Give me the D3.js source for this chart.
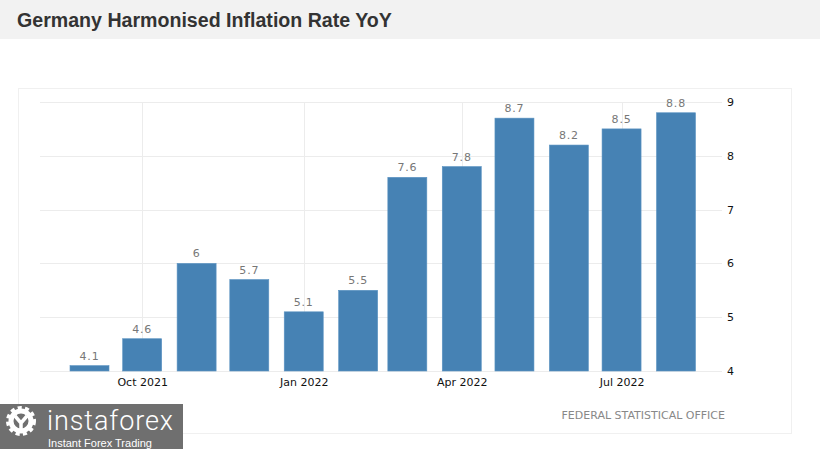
<!DOCTYPE html>
<html><head><meta charset="utf-8">
<script src="https://cdn.jsdelivr.net/npm/d3@7"></script>
<style>html,body{margin:0;padding:0;background:#fff;}svg{display:block;}</style>
</head><body><svg id="c" width="820" height="449"></svg>
<script>
const title = "Germany Harmonised Inflation Rate YoY";
const months = ["2021-09","2021-10","2021-11","2021-12","2022-01","2022-02","2022-03","2022-04","2022-05","2022-06","2022-07","2022-08"];
const values = [4.1,4.6,6,5.7,5.1,5.5,7.6,7.8,8.7,8.2,8.5,8.8];
const valueLabels = ["4.1","4.6","6","5.7","5.1","5.5","7.6","7.8","8.7","8.2","8.5","8.8"];
const xTicks = ["2021-10","2022-01","2022-04","2022-07"];
const xTickLabels = ["Oct 2021","Jan 2022","Apr 2022","Jul 2022"];
const yTicks = [4,5,6,7,8,9];
const source = "FEDERAL STATISTICAL OFFICE";

const parse = d3.utcParse("%Y-%m");
const svg = d3.select("#c");

// title banner
svg.append("rect").attr("x",0).attr("y",0).attr("width",820).attr("height",39).attr("fill","#f2f2f2");
svg.append("text").attr("x",17).attr("y",27).text(title)
  .attr("font-family","Liberation Sans, Arial, sans-serif").attr("font-weight","bold")
  .attr("font-size",19.6).attr("fill","#333");

// chart frame
svg.append("rect").attr("x",18.5).attr("y",88.5).attr("width",773).attr("height",345)
  .attr("fill","none").attr("stroke","#f0f0f0");

const x = d3.scaleUtc().domain([parse("2021-09"), parse("2022-08")]).range([89.5, 676]);
const y = d3.scaleLinear().domain([4,9]).range([371,102]);
const plotL = 40, plotR = 722;

// horizontal grid + right axis
const yAxis = d3.axisRight(y).tickValues(yTicks).tickSize(0).tickPadding(0).tickFormat(d3.format("d"));
const gy = svg.append("g").attr("transform",`translate(727,0)`).call(yAxis);
gy.select(".domain").remove();
gy.selectAll("text").attr("font-family","DejaVu Sans, sans-serif").attr("font-size",11).attr("fill","#111");
svg.append("g").selectAll("line").data(yTicks).join("line")
  .attr("x1",plotL).attr("x2",plotR).attr("y1",d=>Math.round(y(d))+0.5).attr("y2",d=>Math.round(y(d))+0.5)
  .attr("stroke","#ececec");

// vertical grid
svg.append("g").selectAll("line").data(xTicks).join("line")
  .attr("x1",d=>Math.round(x(parse(d)))+0.5).attr("x2",d=>Math.round(x(parse(d)))+0.5)
  .attr("y1",y(9)).attr("y2",y(4)).attr("stroke","#ececec");

// x axis labels
const xAxis = d3.axisBottom(x).tickValues(xTicks.map(parse)).tickSize(0).tickPadding(0)
  .tickFormat((d,i)=>xTickLabels[i]);
const gx = svg.append("g").attr("transform",`translate(0,${y(4)+7})`).call(xAxis);
gx.select(".domain").remove();
gx.selectAll("text").attr("font-family","DejaVu Sans, sans-serif").attr("font-size",11).attr("fill","#111");

// bars
const bw = 39;
svg.append("g").selectAll("rect").data(values).join("rect")
  .attr("x",(d,i)=>x(parse(months[i]))-bw/2).attr("width",bw)
  .attr("y",d=>y(d)).attr("height",d=>y(4)-y(d))
  .attr("fill","#4682b4").attr("stroke","#5b93c2").attr("stroke-width",0.6);

svg.append("g").selectAll("text").data(values).join("text")
  .attr("x",(d,i)=>x(parse(months[i]))).attr("y",d=>y(d)-6)
  .attr("text-anchor","middle").text((d,i)=>valueLabels[i])
  .attr("font-family","DejaVu Sans, sans-serif").attr("font-size",11).attr("letter-spacing",0.8)
  .attr("fill","#777");

// source
svg.append("text").attr("x",725).attr("y",419).attr("text-anchor","end").text(source)
  .attr("font-family","DejaVu Sans, sans-serif").attr("font-size",11).attr("fill","#888");

// instaforex logo
const logo = svg.append("g");
logo.append("rect").attr("x",0).attr("y",404).attr("width",183).attr("height",45).attr("fill","#6f6f6f");
const gear = logo.append("g").attr("transform","translate(21,421)");
gear.append("circle").attr("r",10).attr("fill","none").attr("stroke","#fff").attr("stroke-width",5);
gear.append("circle").attr("r",13).attr("fill","none").attr("stroke","#fff").attr("stroke-width",4)
  .attr("stroke-dasharray","4 3.2");
gear.append("path").attr("d","M-6,-5 L0,2 L6,-5 M0,2 L0,9").attr("stroke","#fff").attr("stroke-width",3.5).attr("fill","none");
logo.append("text").attr("x",47).attr("y",430).text("instaforex")
  .attr("font-family","Roboto, DejaVu Sans, sans-serif").attr("font-weight",300)
  .attr("font-size",27).attr("fill","#fff").attr("textLength",126);
logo.append("text").attr("x",48).attr("y",446.5).text("Instant Forex Trading")
  .attr("font-family","Liberation Sans, Arial, sans-serif").attr("font-size",11).attr("fill","#fff");
</script></body></html>
